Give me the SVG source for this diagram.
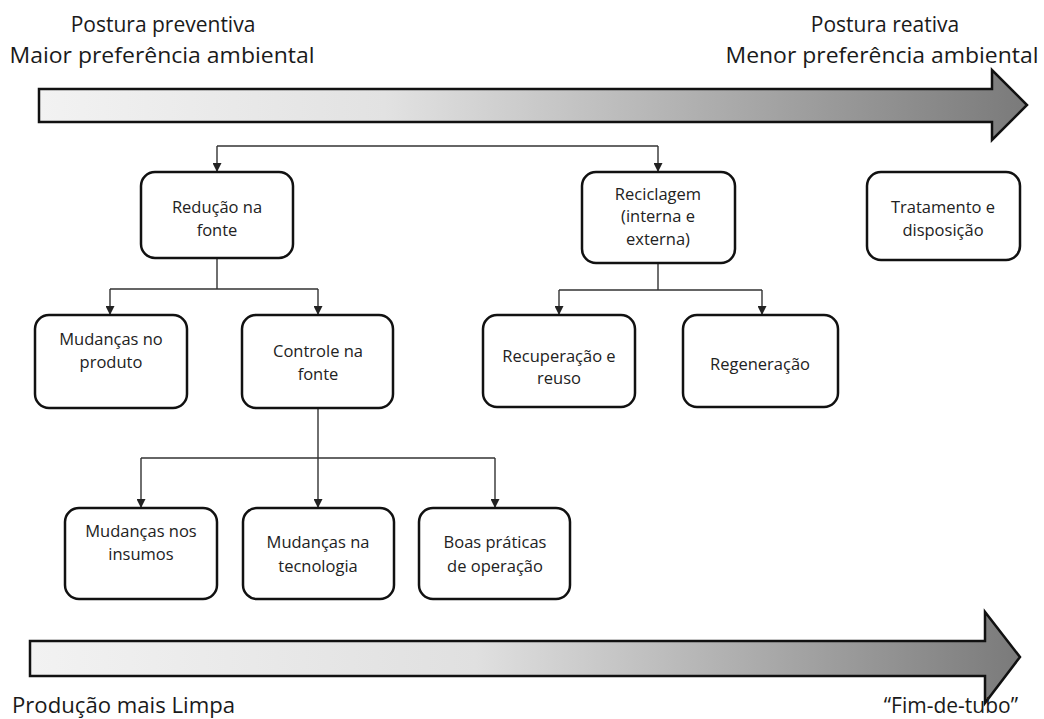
<svg xmlns="http://www.w3.org/2000/svg" width="1044" height="719" viewBox="0 0 1044 719">
<defs>
<linearGradient id="gTop" x1="39" y1="0" x2="1027" y2="0" gradientUnits="userSpaceOnUse">
<stop offset="0" stop-color="#f2f2f2"/>
<stop offset="0.35" stop-color="#e2e2e2"/>
<stop offset="1" stop-color="#7a7a7a"/>
</linearGradient>
<linearGradient id="gBot" x1="30" y1="0" x2="1020" y2="0" gradientUnits="userSpaceOnUse">
<stop offset="0" stop-color="#f2f2f2"/>
<stop offset="0.45" stop-color="#e0e0e0"/>
<stop offset="1" stop-color="#7a7a7a"/>
</linearGradient>
<marker id="ah" viewBox="0 0 10 10" refX="10" refY="5" markerWidth="9" markerHeight="9" markerUnits="userSpaceOnUse" orient="auto">
<path d="M0,0 L10,5 L0,10 z" fill="#222"/>
</marker>
</defs>
<style>
.hdr{font-family:"Open Sans","Liberation Sans",sans-serif;font-size:21px;fill:#1a1a1a}
.lbl{font-family:"Open Sans","Liberation Sans",sans-serif;font-size:16.5px;fill:#222;text-anchor:middle}
.box{fill:#fff;stroke:#111;stroke-width:2.5}
.con{fill:none;stroke:#333;stroke-width:1.4}
.arr{stroke:#111;stroke-width:2.5;stroke-linejoin:miter}
</style>

<g id="headers">
<text class="hdr" x="163" y="32" text-anchor="middle">Postura preventiva</text>
<text class="hdr" x="162" y="63" text-anchor="middle" textLength="305" lengthAdjust="spacingAndGlyphs">Maior preferência ambiental</text>
<text class="hdr" x="885" y="32" text-anchor="middle">Postura reativa</text>
<text class="hdr" x="882" y="63" text-anchor="middle" textLength="313" lengthAdjust="spacingAndGlyphs">Menor preferência ambiental</text>
</g>

<g id="top-arrow">
<path class="arr" fill="url(#gTop)" d="M39,89 L992,89 L992,70 L1027,105 L992,140 L992,122 L39,122 Z"/>
</g>

<g id="bottom-arrow">
<path class="arr" fill="url(#gBot)" d="M30,641 L985,641 L985,612 L1020,657 L985,703 L985,676 L30,676 Z"/>
</g>

<g id="footers">
<text class="hdr" x="12" y="713" textLength="223" lengthAdjust="spacingAndGlyphs">Produção mais Limpa</text>
<text class="hdr" x="1018" y="713" text-anchor="end">“Fim-de-tubo”</text>
</g>

<g id="connectors">
<path class="con" d="M217,146 L658,146"/>
<path class="con" d="M217,146 L217,172" marker-end="url(#ah)"/>
<path class="con" d="M658,146 L658,172" marker-end="url(#ah)"/>
<path class="con" d="M217,258 L217,289 M110,289 L318,289"/>
<path class="con" d="M110,289 L110,315" marker-end="url(#ah)"/>
<path class="con" d="M318,289 L318,315" marker-end="url(#ah)"/>
<path class="con" d="M658,263 L658,290 M559,290 L762,290"/>
<path class="con" d="M559,290 L559,315" marker-end="url(#ah)"/>
<path class="con" d="M762,290 L762,315" marker-end="url(#ah)"/>
<path class="con" d="M141,458 L495,458"/>
<path class="con" d="M318,408 L318,508" marker-end="url(#ah)"/>
<path class="con" d="M141,458 L141,508" marker-end="url(#ah)"/>
<path class="con" d="M495,458 L495,508" marker-end="url(#ah)"/>
</g>

<g id="node-reducao">
<rect class="box" x="141" y="172" width="152" height="86" rx="14"/>
<text class="lbl" x="217" y="213">Redução na</text>
<text class="lbl" x="217" y="236">fonte</text>
</g>
<g id="node-reciclagem">
<rect class="box" x="582" y="172" width="153" height="91" rx="14"/>
<text class="lbl" x="658" y="200">Reciclagem</text>
<text class="lbl" x="658" y="222">(interna e</text>
<text class="lbl" x="658" y="245">externa)</text>
</g>
<g id="node-tratamento">
<rect class="box" x="867" y="172" width="153" height="88" rx="14"/>
<text class="lbl" x="943" y="213">Tratamento e</text>
<text class="lbl" x="943" y="236">disposição</text>
</g>
<g id="node-produto">
<rect class="box" x="35" y="315" width="152" height="93" rx="14"/>
<text class="lbl" x="111" y="345">Mudanças no</text>
<text class="lbl" x="111" y="368">produto</text>
</g>
<g id="node-controle">
<rect class="box" x="242" y="315" width="151" height="93" rx="14"/>
<text class="lbl" x="318" y="357">Controle na</text>
<text class="lbl" x="318" y="380">fonte</text>
</g>
<g id="node-recuperacao">
<rect class="box" x="483" y="315" width="152" height="92" rx="14"/>
<text class="lbl" x="559" y="362">Recuperação e</text>
<text class="lbl" x="559" y="384">reuso</text>
</g>
<g id="node-regeneracao">
<rect class="box" x="683" y="315" width="155" height="92" rx="14"/>
<text class="lbl" x="760" y="370">Regeneração</text>
</g>
<g id="node-insumos">
<rect class="box" x="65" y="508" width="152" height="91" rx="14"/>
<text class="lbl" x="141" y="537">Mudanças nos</text>
<text class="lbl" x="141" y="560">insumos</text>
</g>
<g id="node-tecnologia">
<rect class="box" x="243" y="508" width="151" height="91" rx="14"/>
<text class="lbl" x="318" y="548">Mudanças na</text>
<text class="lbl" x="318" y="572">tecnologia</text>
</g>
<g id="node-boas">
<rect class="box" x="419" y="508" width="151" height="91" rx="14"/>
<text class="lbl" x="495" y="548">Boas práticas</text>
<text class="lbl" x="495" y="572">de operação</text>
</g>
</svg>
